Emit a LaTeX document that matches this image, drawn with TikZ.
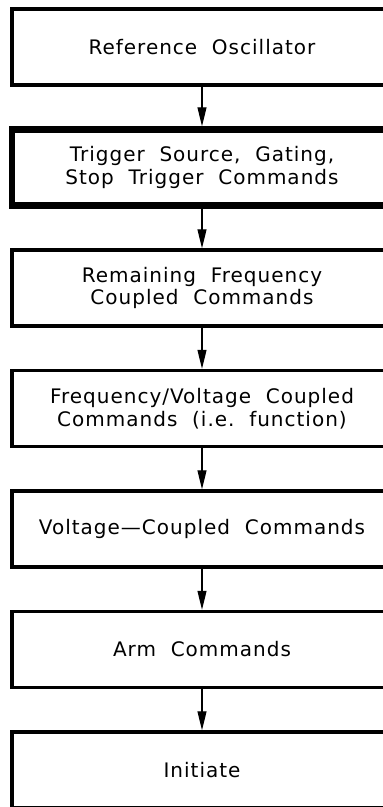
\documentclass[tikz,border=0pt]{standalone}
\usepackage{fontspec}
\setmainfont[LetterSpace=5]{DejaVu Sans}
\usetikzlibrary{arrows.meta}
\tikzset{
  cmdbox/.style={draw,line width=3.5pt,minimum width=380pt,minimum height=76pt,
    align=center,inner sep=0pt,font=\fontsize{20}{22.5}\selectfont},
  heavybox/.style={cmdbox,line width=6.5pt},
  flow/.style={line width=1.2pt,-{Triangle[length=19pt,width=9pt]}}
}
\begin{document}
\begin{tikzpicture}[x=1pt,y=1pt]
  \useasboundingbox (0,0) rectangle (383,-807);
  \clip (0,0) rectangle (383,-807);
  \node[cmdbox] (refosc) at (202,-47) {Reference\ \ Oscillator};
  \node[heavybox] (trig) at (202,-167.5) {Trigger\ \ Source,\ \ Gating,\\Stop\ \ Trigger\ \ Commands};
  \node[cmdbox] (freq) at (202,-288) {Remaining\ \ Frequency\\Coupled\ \ Commands};
  \node[cmdbox] (fvolt) at (202,-408.5) {Frequency/Voltage\ \ Coupled\\Commands\ \ (i.e.\ \ function)};
  \node[cmdbox] (volt) at (202,-529) {Voltage---Coupled\ \ Commands};
  \node[cmdbox] (arm) at (202,-649.5) {Arm\ \ Commands};
  \node[cmdbox] (init) at (202,-770) {Initiate};
  \draw[flow] (refosc) -- (trig);
  \draw[flow] (trig) -- (freq);
  \draw[flow] (freq) -- (fvolt);
  \draw[flow] (fvolt) -- (volt);
  \draw[flow] (volt) -- (arm);
  \draw[flow] (arm) -- (init);
\end{tikzpicture}
\end{document}
